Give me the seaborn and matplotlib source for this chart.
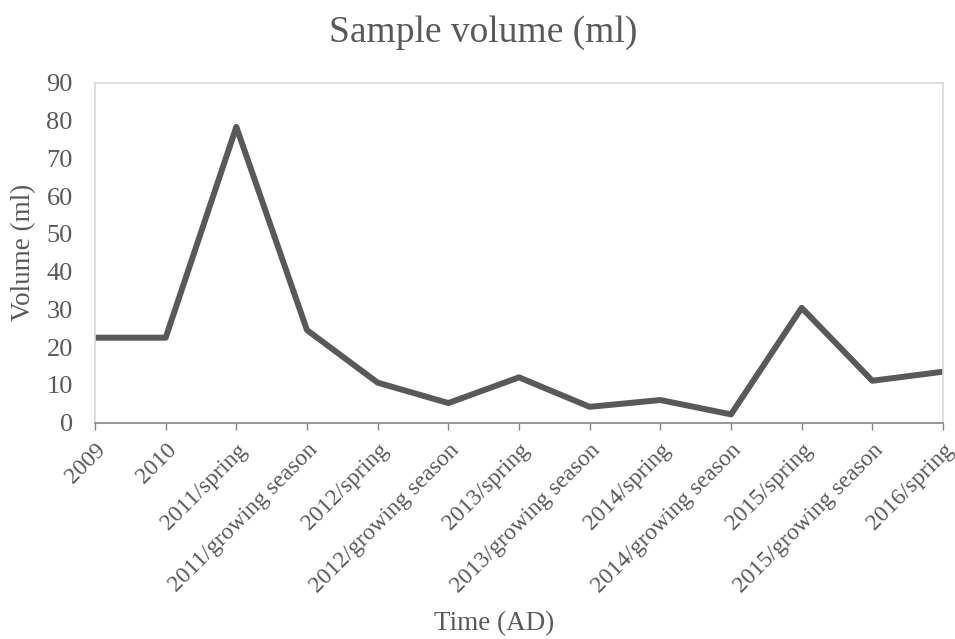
import matplotlib
matplotlib.use("Agg")
import matplotlib.pyplot as plt
import seaborn as sns
import pandas as pd

categories = ["2009", "2010", "2011/spring", "2011/growing season", "2012/spring",
              "2012/growing season", "2013/spring", "2013/growing season", "2014/spring",
              "2014/growing season", "2015/spring", "2015/growing season", "2016/spring"]
volume = [22.5, 22.5, 78.3, 24.5, 10.6, 5.2, 12.0, 4.2, 6.0, 2.2, 30.4, 11.1, 13.5]
y_ticks = [0, 10, 20, 30, 40, 50, 60, 70, 80, 90]

sns.set_theme(style="white")
plt.rcParams['font.family'] = ['Liberation Serif', 'DejaVu Serif']

df = pd.DataFrame({"pos": range(len(categories)), "volume": volume})

fig = plt.figure(figsize=(9.55, 6.39), dpi=100)
ax = fig.add_axes([95/955, 1-422.7/639, (943-95)/955, (422.7-82.7)/639])
sns.lineplot(data=df, x="pos", y="volume", ax=ax, color="#595959", linewidth=4.3)

ax.set_xlim(0, len(categories)-1)
ax.set_ylim(0, 90)
ax.set_yticks(y_ticks)
ax.set_xticks(range(len(categories)))
ax.set_xticklabels(categories, rotation=45, ha="right", rotation_mode="anchor",
                   fontsize=17, color="#595959")
ax.tick_params(axis="y", labelsize=19, labelcolor="#595959", length=0, pad=16)
ax.tick_params(axis="x", length=5, width=1, color="#868686", pad=7, direction="out", bottom=True)

for s in ["top", "right", "left"]:
    ax.spines[s].set_color("#d9d9d9")
    ax.spines[s].set_linewidth(1.2)
ax.spines["bottom"].set_color("#868686")
ax.spines["bottom"].set_linewidth(1.2)

ax.set_xlabel("Time (AD)", fontsize=19.5, color="#595959")
ax.xaxis.set_label_coords(0.4705, (422.7-624)/340)
ax.xaxis.label.set_va("center")
ax.set_ylabel("Volume (ml)", fontsize=19.5, color="#595959")
ax.yaxis.set_label_coords((24-95)/848, 0.5)
ax.yaxis.label.set_va("center")
fig.text(0.506, 1-33/639, "Sample volume (ml)", ha="center", va="center",
         fontsize=27, color="#595959")

fig.savefig("out.png", dpi=100)
